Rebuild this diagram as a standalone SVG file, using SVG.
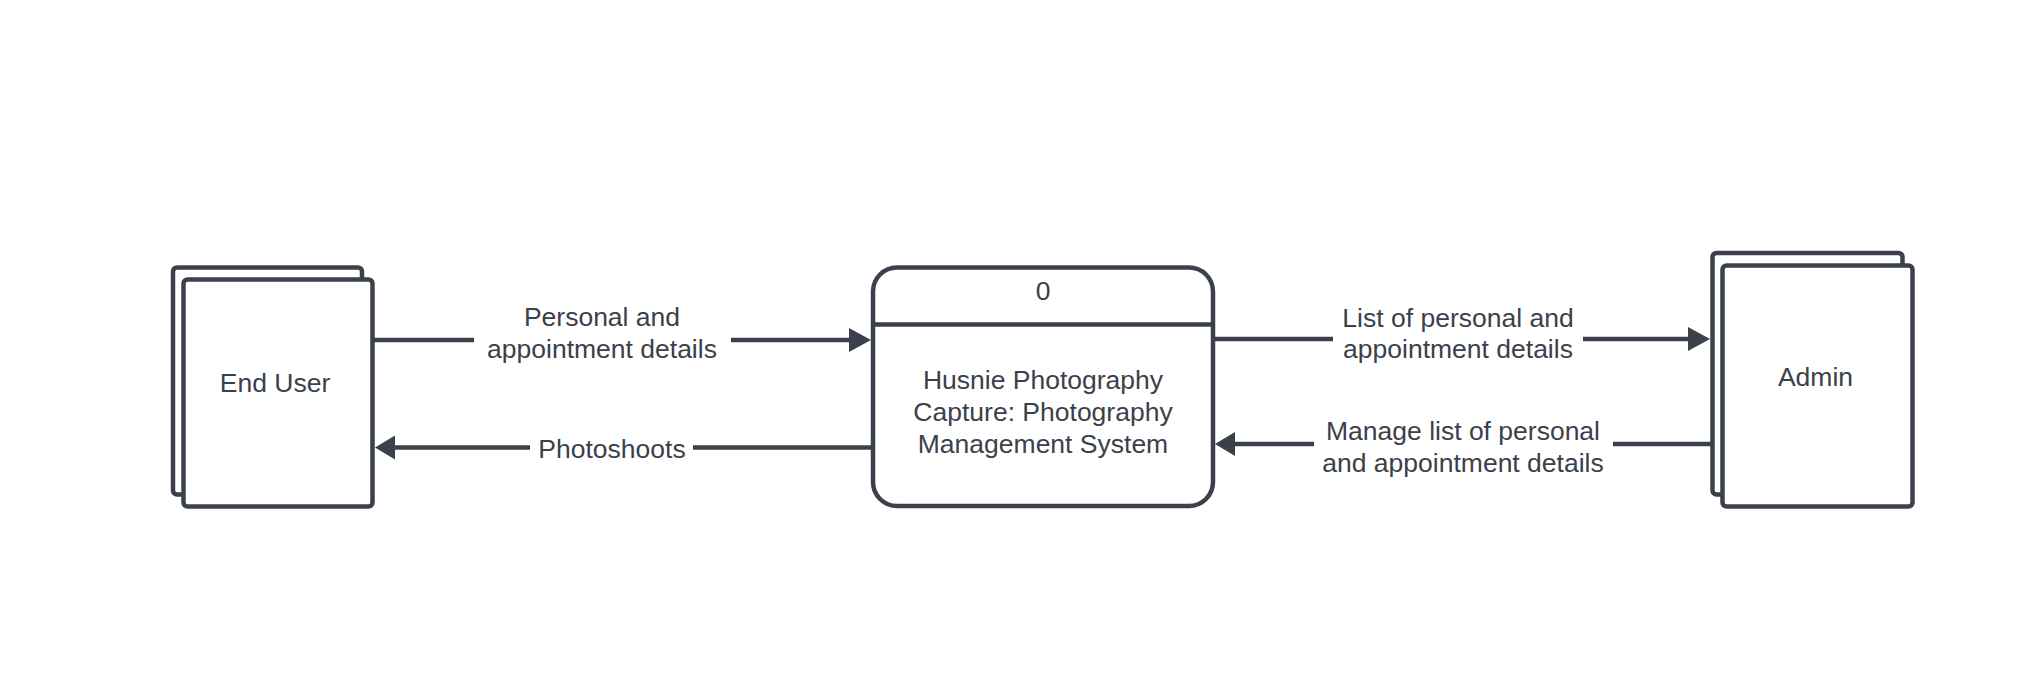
<svg xmlns="http://www.w3.org/2000/svg" width="2029" height="696" viewBox="0 0 2029 696">
  <style>
    .box { fill: #ffffff; stroke: #3a414a; stroke-width: 4.5; }
    .line { fill: none; stroke: #3a414a; stroke-width: 4.5; }
    .head { fill: #3a414a; stroke: none; }
    text { font-family: "Liberation Sans", Arial, sans-serif; font-size: 26.5px; fill: #3a414a; text-anchor: middle; }
  </style>
  <rect x="0" y="0" width="2029" height="696" fill="#ffffff"/>

  <g id="end-user">
    <rect class="box" x="173" y="267.5" width="189" height="227" rx="4"/>
    <rect class="box" x="183.5" y="279.5" width="189" height="227" rx="4"/>
    <text x="275" y="392">End User</text>
  </g>

  <g id="process">
    <rect class="box" x="873" y="267.5" width="340" height="238.5" rx="24"/>
    <line class="line" x1="873" y1="324.5" x2="1213" y2="324.5"/>
    <text x="1043" y="300">0</text>
    <text x="1043" y="389">Husnie Photography</text>
    <text x="1043" y="421">Capture: Photography</text>
    <text x="1043" y="453">Management System</text>
  </g>

  <g id="admin">
    <rect class="box" x="1712.5" y="253" width="190" height="241.5" rx="4"/>
    <rect class="box" x="1722.5" y="265.5" width="190" height="241" rx="4"/>
    <text x="1815.5" y="386">Admin</text>
  </g>

  <g id="connectors">
    <g id="flow-personal">
      <line class="line" x1="372.5" y1="340" x2="474" y2="340"/>
      <line class="line" x1="731" y1="340" x2="851" y2="340"/>
      <polygon class="head" points="849,328 871,340 849,352"/>
      <text x="602" y="326">Personal and</text>
      <text x="602" y="358">appointment details</text>
    </g>
    <g id="flow-photoshoots">
      <line class="line" x1="873" y1="447.5" x2="693" y2="447.5"/>
      <line class="line" x1="530" y1="447.5" x2="393" y2="447.5"/>
      <polygon class="head" points="395,435.5 375,447.5 395,459.5"/>
      <text x="612" y="457.5">Photoshoots</text>
    </g>
    <g id="flow-list">
      <line class="line" x1="1213" y1="339" x2="1333" y2="339"/>
      <line class="line" x1="1583" y1="339" x2="1690" y2="339"/>
      <polygon class="head" points="1688,327 1710,339 1688,351"/>
      <text x="1458" y="327">List of personal and</text>
      <text x="1458" y="358">appointment details</text>
    </g>
    <g id="flow-manage">
      <line class="line" x1="1712.5" y1="444" x2="1613" y2="444"/>
      <line class="line" x1="1314" y1="444" x2="1233" y2="444"/>
      <polygon class="head" points="1235,432 1215,444 1235,456"/>
      <text x="1463" y="440">Manage list of personal</text>
      <text x="1463" y="472">and appointment details</text>
    </g>
  </g>
</svg>
